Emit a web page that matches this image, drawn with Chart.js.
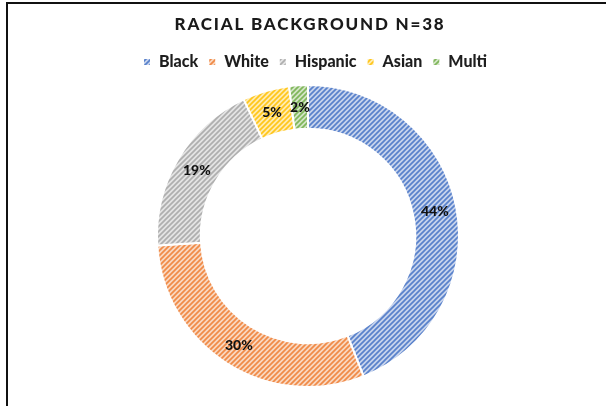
<!DOCTYPE html>
<html>
<head>
<meta charset="utf-8">
<script src="https://cdn.jsdelivr.net/npm/chart.js@4/dist/chart.umd.min.js"></script>
<style>
  body { margin: 0; background: #fff; }
  #wrap { position: relative; width: 606px; height: 406px; }
  #frame { position: absolute; left: 6px; top: 2px; right: 0; bottom: 0;
           border-top: 2px solid #111; border-left: 2px solid #111; pointer-events: none; }
</style>
</head>
<body>
<div id="wrap">
  <canvas id="racialChart" width="606" height="406"></canvas>
  <div id="frame"></div>
</div>
<script>
var chartTitle = "RACIAL BACKGROUND N=38";
var groups = ["Black", "White", "Hispanic", "Asian", "Multi"];
var percents = [44, 30, 19, 5, 2];
var colors = ["#4472C4", "#ED7D31", "#A5A5A5", "#FFC000", "#70AD47"];

var canvas = document.getElementById("racialChart");
var ctx = canvas.getContext("2d");

// diagonal stripes on a pale tint, like the excel "wide upward diagonal" fill
function makeHatch(color) {
  var n = 5;
  var tile = document.createElement("canvas");
  tile.width = n; tile.height = n;
  var t = tile.getContext("2d");
  t.fillStyle = "#fff";
  t.fillRect(0, 0, n, n);
  t.globalAlpha = 0.3;
  t.fillStyle = color;
  t.fillRect(0, 0, n, n);
  t.globalAlpha = 0.85;
  t.strokeStyle = color;
  t.lineWidth = 1.7;
  t.beginPath();
  t.moveTo(0, n); t.lineTo(n, 0);
  t.moveTo(-n, n); t.lineTo(n, -n);
  t.moveTo(0, 2 * n); t.lineTo(2 * n, 0);
  t.stroke();
  return ctx.createPattern(tile, "repeat");
}

var fills = colors.map(makeHatch);

var titlePlugin = {
  id: "spacedTitle",
  afterDraw: function(chart) {
    var c = chart.ctx;
    c.save();
    c.font = "900 17px Lato";
    c.letterSpacing = "1.8px";
    c.fillStyle = "#1a1a1a";
    c.textAlign = "center";
    c.textBaseline = "middle";
    c.fillText(chartTitle, 310, 25);
    c.restore();
  }
};

// extra room under the legend and a small nudge to the right
var legendTweak = {
  id: "legendTweak",
  beforeInit: function(chart) {
    var fit = chart.legend.fit;
    chart.legend.fit = function() {
      fit.call(this);
      this.height += 4;
    };
  },
  afterLayout: function(chart) {
    chart.legend.left += 7;
    chart.legend.right += 7;
  }
};

var pctLabels = {
  id: "pctLabels",
  afterDatasetsDraw: function(chart) {
    var c = chart.ctx;
    var meta = chart.getDatasetMeta(0);
    c.save();
    c.font = "900 14px Lato";
    c.fillStyle = "#111";
    c.textAlign = "center";
    c.textBaseline = "middle";
    meta.data.forEach(function(arc, i) {
      var p = arc.tooltipPosition();
      c.fillText(percents[i] + "%", p.x, p.y);
    });
    c.restore();
  }
};

new Chart(ctx, {
  type: "doughnut",
  data: {
    labels: groups,
    datasets: [{
      data: percents,
      backgroundColor: fills,
      borderColor: "#fff",
      borderWidth: 2
    }]
  },
  options: {
    responsive: false,
    devicePixelRatio: 1,
    animation: false,
    cutout: "71%",
    layout: { padding: { top: 44, bottom: 18, left: 10, right: 0 } },
    plugins: {
      legend: {
        position: "top",
        labels: {
          boxWidth: 8,
          boxHeight: 8,
          padding: 10,
          color: "#1e1e1e",
          font: { family: "Lato", size: 16, weight: "900" }
        }
      },
      tooltip: { enabled: false }
    }
  },
  plugins: [titlePlugin, legendTweak, pctLabels]
});
</script>
</body>
</html>
